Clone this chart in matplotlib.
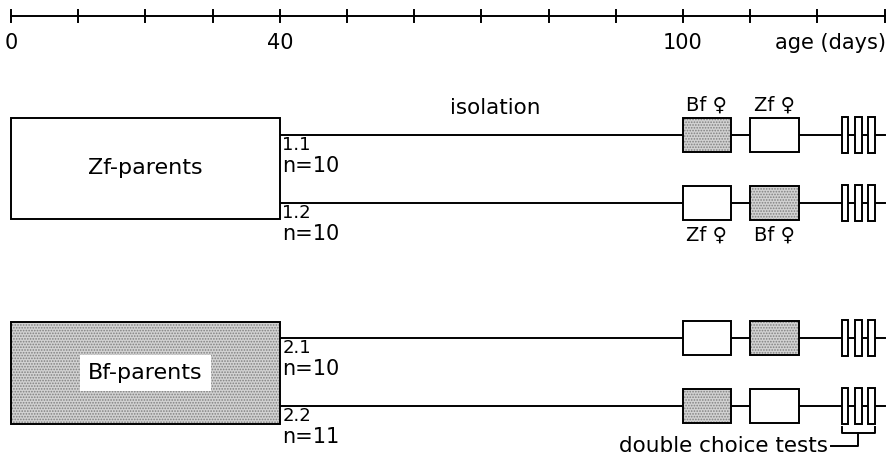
import matplotlib
matplotlib.use("Agg")
import matplotlib.pyplot as plt
from matplotlib.patches import Rectangle

# ---------------- data ----------------
tick_days = list(range(0, 131, 10))
tick_labels = {0: "0", 40: "40", 100: "100"}
axis_title = "age (days)"

parents = ["Zf-parents", "Bf-parents"]
parent_start, parent_end = 0, 40

groups = ["1.1", "1.2", "2.1", "2.2"]
group_n = [10, 10, 10, 11]
first_partner = ["Bf", "Zf", "Zf", "Bf"]
second_partner = ["Zf", "Bf", "Bf", "Zf"]
partner1_period = (100, 107.1)
partner2_period = (110, 117.2)
test_days = [124, 126, 128]
test_width = 1.0
end_day = 130

# ---------------- layout ----------------
px_per_day = 6.72
x0 = 11
W, H = 893, 458
fig = plt.figure(figsize=(W / 100, H / 100), dpi=100)
ax = fig.add_axes([0, 0, 1, 1])
ax.set_xlim(-x0 / px_per_day, (W - x0) / px_per_day)
ax.set_ylim(H, 0)
ax.axis("off")

FONT = "DejaVu Sans"
lw = 1.4
plt.rcParams["hatch.linewidth"] = 0.8
plt.rcParams["hatch.color"] = "#808080"


def stipple_box(x, y, w, h, shaded, z=2):
    if shaded:
        ax.add_patch(Rectangle((x, y), w, h, facecolor="#d2d2d2", edgecolor="#808080",
                               lw=0, hatch="......", zorder=z))
        ax.add_patch(Rectangle((x, y), w, h, facecolor="none", edgecolor="black",
                               lw=lw, zorder=z + 0.1))
    else:
        ax.add_patch(Rectangle((x, y), w, h, facecolor="white", edgecolor="black",
                               lw=lw, zorder=z))


# time axis
axis_y = 16
ax.plot([tick_days[0], tick_days[-1]], [axis_y, axis_y], color="black", lw=lw)
for d in tick_days:
    ax.plot([d, d], [axis_y - 6, axis_y + 6], color="black", lw=lw)
    if d in tick_labels:
        ax.text(d, 43, tick_labels[d], ha="center", va="center", fontsize=15, family=FONT)
ax.text(tick_days[-1] + 0.2, 43, axis_title, ha="right", va="center", fontsize=15, family=FONT)

# parent boxes
parent_y = [(118, 219), (322, 424)]
for i, name in enumerate(parents):
    y_top, y_bot = parent_y[i]
    shaded = name.startswith("Bf")
    stipple_box(parent_start, y_top, parent_end - parent_start, y_bot - y_top, shaded)
    tx = (parent_start + parent_end) / 2
    ty = (y_top + y_bot) / 2
    if shaded:
        ax.text(tx, ty, name, ha="center", va="center", fontsize=16, family=FONT, zorder=5,
                bbox=dict(facecolor="white", edgecolor="none", pad=6))
    else:
        ax.text(tx, ty, name, ha="center", va="center", fontsize=16, family=FONT, zorder=5)

# group lines
line_y = [135, 203, 338, 406]
box_h = 34
test_h = 36
for i, g in enumerate(groups):
    y = line_y[i]
    ax.plot([parent_end, end_day], [y, y], color="black", lw=lw, zorder=1)
    ax.text(parent_end + 0.4, y + 10, g, ha="left", va="center", fontsize=13, family=FONT)
    ax.text(parent_end + 0.4, y + 31, f"n={group_n[i]}", ha="left", va="center", fontsize=15, family=FONT)
    for period, partner in ((partner1_period, first_partner[i]),
                            (partner2_period, second_partner[i])):
        shaded = partner == "Bf"
        stipple_box(period[0], y - box_h / 2, period[1] - period[0], box_h, shaded)
        if i == 0:
            ax.text((period[0] + period[1]) / 2, y - box_h / 2 - 13, f"{partner} ♀",
                    ha="center", va="center", fontsize=14, family=FONT)
        elif i == 1:
            ax.text((period[0] + period[1]) / 2, y + box_h / 2 + 15, f"{partner} ♀",
                    ha="center", va="center", fontsize=14, family=FONT)
    for d in test_days:
        ax.add_patch(Rectangle((d - test_width / 2 + 0.1, y - test_h / 2), test_width, test_h,
                               facecolor="white", edgecolor="black", lw=lw, zorder=2))

ax.text(72.0, 108, "isolation", ha="center", va="center", fontsize=15.5, family=FONT)

# bracket for double choice tests
by = 433
left = test_days[0] - test_width / 2 + 0.1
right = test_days[-1] + test_width / 2 + 0.1
mid = test_days[1] + 0.1
ax.plot([left, left, right, right], [by - 6, by, by, by - 6], color="black", lw=lw)
ax.plot([mid, mid, 122.0], [by, 446, 446], color="black", lw=lw)
ax.text(121.6, 452, "double choice tests", ha="right", va="baseline", fontsize=15.5, family=FONT)

fig.savefig("out.png", dpi=100)
